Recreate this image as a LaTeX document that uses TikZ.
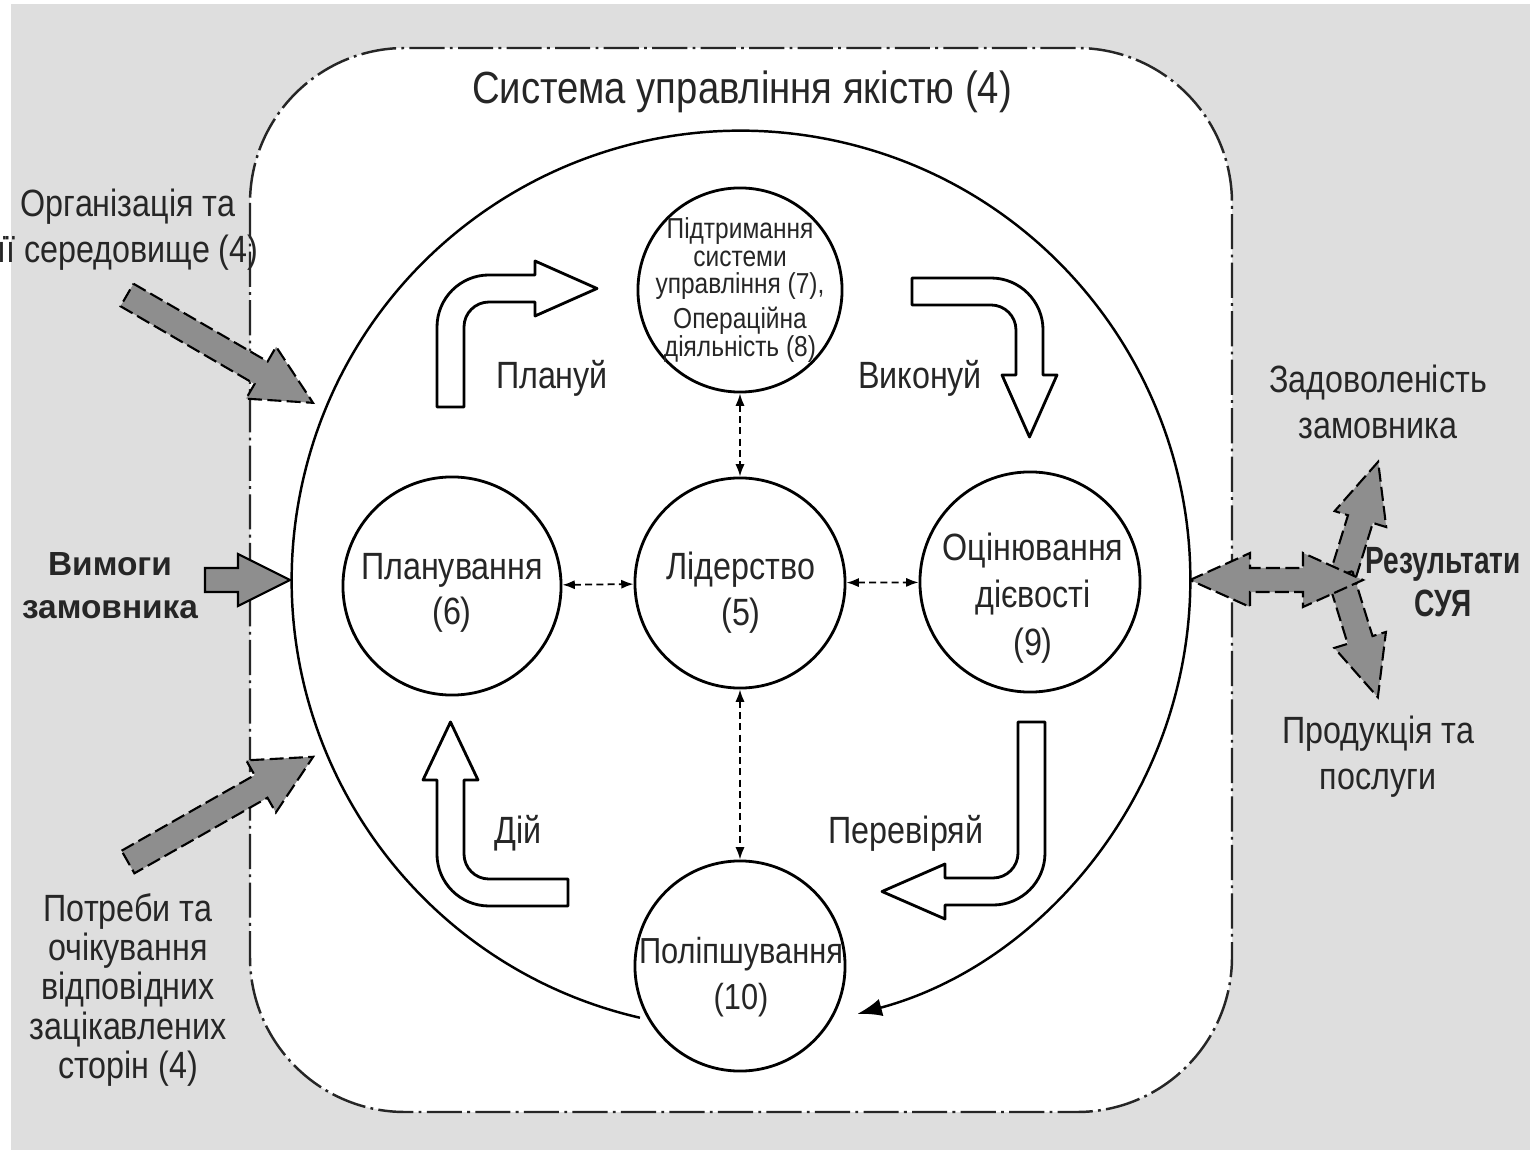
\documentclass[tikz,border=0pt]{standalone}
\usepackage{fontspec}
\setmainfont{Liberation Sans}[FakeStretch=0.85]
\newfontfamily\widefont{Liberation Sans}
\newfontfamily\slimfont{Liberation Sans}[FakeStretch=0.74]
\usetikzlibrary{calc,arrows.meta}
\definecolor{bggray}{HTML}{DEDEDE}
\definecolor{arrgray}{HTML}{8E8E8E}
\newcommand\lbltxt{\fontsize{10.8}{13}\selectfont}
\newcommand\titletxt{\fontsize{12.8}{15}\selectfont}
\newcommand\smalltxt{\fontsize{8.2}{7.9}\selectfont}
\newcommand\needtxt{\fontsize{10.8}{11.1}\selectfont}
\newcommand\reqtxt{\widefont\bfseries\fontsize{9.5}{12.2}\selectfont}
\newcommand\restxt{\slimfont\bfseries\fontsize{10.8}{12.2}\selectfont}
\def\bentarrow[#1](#2)(#3:#4:#5:#6){\begin{scope}[shift={(#2)},rotate=#3]
\draw[#1] (-52,-#4) -- (-52,0) arc (180:90:0.52cm) -- (#5,52) -- (#5,66) -- ({#5+#6},38.5) -- (#5,11) -- (#5,25) -- (0,25) arc (90:180:0.25cm) -- (-25,-#4) -- cycle;
\end{scope}}
\def\blockarrow[#1](#2)(#3:#4:#5:#6:#7){\draw[#1,shift={(#2)},rotate=#3] (0,#5) -- ({#4-#7},#5) -- ({#4-#7},#6) -- (#4,0) -- ({#4-#7},-#6) -- ({#4-#7},-#5) -- (0,-#5) -- cycle;}

\begin{document}
\begin{tikzpicture}[x=0.01cm, y=0.01cm,
  circ/.style={draw, circle, line width=0.8pt, fill=white, inner sep=0pt, minimum size=#1},
  lbl/.style={font=\lbltxt, align=center, text=black!85, inner sep=0pt},
  frame/.style={draw=black!85, line width=0.7pt, dash pattern=on 10pt off 1.5pt on 0.8pt off 1.5pt},
  dlink/.style={line width=0.5pt, dash pattern=on 2pt off 1.2pt, {Latex[length=3.5pt,width=2.6pt]}-{Latex[length=3.5pt,width=2.6pt]}},
  hollow/.style={draw, fill=white, line width=0.8pt, line join=round},
  grayarr/.style={draw, fill=arrgray, line width=0.6pt, line join=miter, dash pattern=on 4pt off 1.5pt}]
			%%%%% START %%%%%
			
			\useasboundingbox (0,0) rectangle (1530,-1152);
			\fill[bggray] (11,-4) rectangle (1530,-1150);
			\draw[frame, fill=white, rounded corners=1.55cm] (250,-48) rectangle (1232,-1112);
			
			\coordinate (bigc) at (741,-580);
			\draw[line width=0.7pt, -{Latex[length=7pt,width=5pt]}] ($(bigc)+(257:4.49cm)$) arc[start angle=257, end angle=-75, radius=4.49cm];
			
			\node[circ=2.18cm] (plan) at (452,-586) {};
			\node[circ=2.1cm] (lead) at (740,-583) {};
			\node[circ=2.2cm] (eval) at (1030,-582) {};
			\node[circ=2.04cm] (supp) at (740,-290) {};
			\node[circ=2.1cm] (impr) at (740,-966) {};
			
			\node[lbl] (plantxt) at (452,-593) {Планування\\(6)};
			\node[lbl] (leadtxt) at (741,-593) {Лідерство\\(5)};
			\node[lbl, font=\fontsize{10.8}{13.5}\selectfont] (evaltxt) at (1033,-598) {Оцінювання\\дієвості\\(9)};
			\node[lbl, font=\smalltxt] (supptxt) at (740,-290) {Підтримання\\системи\\управління (7),\\[2pt]Операційна\\діяльність (8)};
			\node[lbl, font=\fontsize{10.3}{13}\selectfont] (imprtxt) at (741,-977) {Поліпшування\\(10)};
			
			\draw[dlink] (plan) -- (lead);
			\draw[dlink] (lead) -- (eval);
			\draw[dlink] (supp) -- (lead);
			\draw[dlink] (lead) -- (impr);
			
			\bentarrow[hollow](489,-327)(0:80:46:62)
			\bentarrow[hollow](991,-330)(-90:79:45:62)
			\bentarrow[hollow](993,-853)(180:131:48:63)
			\bentarrow[hollow](489,-854)(90:79:74:58)
			
			\node[lbl] (plantag) at (552,-378) {Плануй};
			\node[lbl] (dotag) at (920,-378) {Виконуй};
			\node[lbl] (acttag) at (518,-833) {Дій};
			\node[lbl] (checktag) at (906,-833) {Перевіряй};
			
			\blockarrow[grayarr](127,-295)(-30.1:215:13:30:60)
			\blockarrow[grayarr, solid](205,-580)(0:85:12:26:52)
			\blockarrow[grayarr](128,-862)(29.6:213:13:30:60)
			\blockarrow[grayarr](1340,-585)(72.8:129:13:27:60)
			\blockarrow[grayarr](1340,-575)(-72.8:128:13:27:60)
			\draw[grayarr] (1190,-580) -- (1250,-553) -- (1250,-568) -- (1303,-568) -- (1303,-553) -- (1363,-580) -- (1303,-607) -- (1303,-592) -- (1250,-592) -- (1250,-607) -- cycle;
			
			\node[lbl, font=\titletxt] (title) at (742,-92) {Система управління якістю (4)};
			\node[lbl] (org) at (128,-230) {Організація та\\її середовище (4)};
			\node[lbl, font=\reqtxt] (req) at (110,-586) {Вимоги\\замовника};
			\node[lbl, font=\needtxt] (needs) at (128,-990) {Потреби та\\очікування\\відповідних\\зацікавлених\\сторін (4)};
			\node[lbl] (sat) at (1378,-402) {Задоволеність\\замовника};
			\node[lbl, font=\restxt] (res) at (1443,-582) {Результати\\СУЯ};
			\node[lbl] (prod) at (1378,-757) {Продукція та\\послуги};
			
			%%%%% END %%%%%
\end{tikzpicture}
\end{document}
